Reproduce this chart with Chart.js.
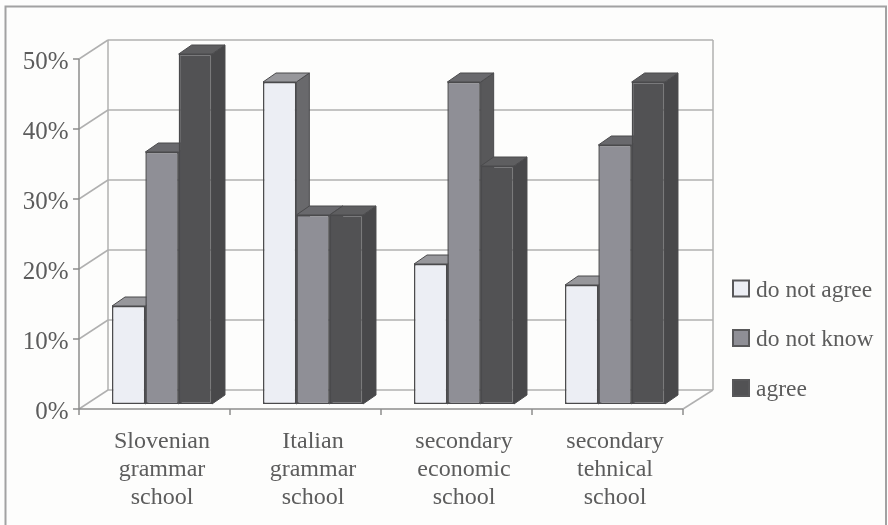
<!DOCTYPE html>
<html>
<head>
<meta charset="utf-8">
<style>
  html, body { margin: 0; padding: 0; background: #fdfdfc; }
  #wrap { position: relative; width: 888px; height: 525px; }
  canvas { display: block; }
</style>
<script src="https://cdn.jsdelivr.net/npm/chart.js@4"></script>
</head>
<body>
<div id="wrap"><canvas id="chart" width="888" height="525"></canvas></div>
<script>
// Survey answers by school type, in percent
const categories = [
  ['Slovenian', 'grammar', 'school'],
  ['Italian', 'grammar', 'school'],
  ['secondary', 'economic', 'school'],
  ['secondary', 'tehnical', 'school']
];
const doNotAgree = [14, 46, 20, 17];
const doNotKnow = [36, 27, 46, 37];
const agree = [50, 27, 34, 46];
const yTicks = [0, 10, 20, 30, 40, 50];

const seriesNames = ['do not agree', 'do not know', 'agree'];
const seriesValues = [doNotAgree, doNotKnow, agree];
const frontColors = ['#eceef4', '#8f8f96', '#525254'];
const topColors = ['#97979b', '#69696d', '#5e5e60'];
const sideColors = ['#69696c', '#58585a', '#48484a'];

const INK = '#5c5c5c';
const WALL = '#b0b0b0';
const SERIF = '"Liberation Serif", "Times New Roman", serif';
const LEGEND_FONT = '23.5px ' + SERIF;

// Depth of the bars and offsets of the box planes, relative to the bar plane
const BAR_DX = 13, BAR_DY = -9;
const FRONT_DX = -7.5, FRONT_DY = 5;
const BACK_DX = 21.5, BACK_DY = -14;

function line(ctx, x1, y1, x2, y2) {
  ctx.beginPath();
  ctx.moveTo(x1, y1);
  ctx.lineTo(x2, y2);
  ctx.stroke();
}

function quad(ctx, pts, fill) {
  ctx.fillStyle = fill;
  ctx.beginPath();
  pts.forEach((p, i) => (i ? ctx.lineTo(p[0], p[1]) : ctx.moveTo(p[0], p[1])));
  ctx.closePath();
  ctx.fill();
  ctx.stroke();
}

// Page frame, box walls, gridlines and the extruded faces of the bars
const boxPlugin = {
  id: 'box3d',
  beforeDatasetsDraw(chart) {
    const { ctx, chartArea: a, scales: { x, y } } = chart;
    const fl = a.left + FRONT_DX, fr = a.right + FRONT_DX;
    const bl = a.left + BACK_DX, br = a.right + BACK_DX + 1;
    const base = y.getPixelForValue(0);
    const top = y.getPixelForValue(yTicks[yTicks.length - 1]);

    ctx.save();
    ctx.lineWidth = 2;
    ctx.strokeStyle = '#a2a2a2';
    ctx.beginPath();
    ctx.moveTo(5.5, 525);
    ctx.lineTo(5.5, 6.5);
    ctx.lineTo(886, 6.5);
    ctx.lineTo(886, 525);
    ctx.stroke();

    ctx.lineWidth = 1.5;
    ctx.strokeStyle = WALL;
    yTicks.forEach(t => {
      const py = y.getPixelForValue(t);
      line(ctx, fl, py + FRONT_DY, bl, py + BACK_DY);
      line(ctx, bl, py + BACK_DY, br, py + BACK_DY);
    });
    line(ctx, bl, top + BACK_DY, bl, base + BACK_DY);
    line(ctx, br, top + BACK_DY, br, base + BACK_DY);
    line(ctx, fr, base + FRONT_DY, br, base + BACK_DY);

    ctx.strokeStyle = '#8c8c8c';
    line(ctx, fl, top + FRONT_DY, fl, base + FRONT_DY);
    line(ctx, fl, base + FRONT_DY, fr, base + FRONT_DY);
    yTicks.forEach(t => {
      const py = y.getPixelForValue(t) + FRONT_DY;
      line(ctx, fl - 6, py, fl, py);
    });
    const step = (fr - fl) / categories.length;
    for (let i = 0; i <= categories.length; i++) {
      const px = fl + i * step;
      line(ctx, px, base + FRONT_DY, px, base + FRONT_DY + 6);
    }

    // Top and side faces, painted left to right; the fronts are drawn later by the bar controller
    ctx.lineWidth = 1;
    categories.forEach((_, c) => {
      seriesValues.forEach((_, s) => {
        const bar = chart.getDatasetMeta(s).data[c];
        const half = bar.width / 2;
        const l = bar.x - half, r = bar.x + half, t = bar.y, b = bar.base;
        ctx.strokeStyle = '#4a4a4c';
        quad(ctx, [[r, t], [r + BAR_DX, t + BAR_DY], [r + BAR_DX, b + BAR_DY], [r, b]], sideColors[s]);
        quad(ctx, [[l, t], [l + BAR_DX, t + BAR_DY], [r + BAR_DX, t + BAR_DY], [r, t]], topColors[s]);
      });
    });
    ctx.restore();
  },
  afterDraw(chart) {
    // Legend entries at the right of the box
    const { ctx } = chart;
    const rows = [288.5, 338, 388];
    ctx.save();
    ctx.font = LEGEND_FONT;
    ctx.textBaseline = 'middle';
    seriesNames.forEach((name, i) => {
      ctx.fillStyle = frontColors[i];
      ctx.strokeStyle = '#58585a';
      ctx.lineWidth = 2;
      ctx.fillRect(733, rows[i] - 8, 16, 16);
      ctx.strokeRect(733, rows[i] - 8, 16, 16);
      ctx.fillStyle = INK;
      ctx.fillText(name, 756, rows[i] + 2);
    });
    ctx.restore();
  }
};

new Chart(document.getElementById('chart'), {
  type: 'bar',
  data: {
    labels: categories,
    datasets: seriesNames.map((name, i) => ({
      label: name,
      data: seriesValues[i],
      backgroundColor: frontColors[i],
      borderColor: '#4a4a4c',
      borderWidth: 1.5,
      borderSkipped: false,
      categoryPercentage: 0.662,
      barPercentage: 1
    }))
  },
  plugins: [boxPlugin],
  options: {
    responsive: false,
    animation: false,
    layout: { padding: { top: 54, right: 197.5, left: 0, bottom: 0 } },
    plugins: { legend: { display: false }, tooltip: { enabled: false } },
    scales: {
      x: {
        grid: { display: false, drawTicks: false },
        border: { display: false },
        ticks: {
          autoSkip: false, maxRotation: 0, minRotation: 0,
          color: INK, font: { family: SERIF, size: 24, lineHeight: 28 / 24 }, padding: 24
        },
        afterFit(scale) {
          scale.height = 121;
          scale.paddingLeft = scale.paddingRight = scale.paddingTop = scale.paddingBottom = 0;
        }
      },
      y: {
        min: 0,
        max: 50,
        afterBuildTicks(scale) { scale.ticks = yTicks.map(value => ({ value })); },
        grid: { display: false, drawTicks: false },
        border: { display: false },
        ticks: {
          color: INK, font: { family: SERIF, size: 25 }, padding: 18, labelOffset: 8,
          callback: v => v + '%'
        },
        afterFit(scale) {
          scale.width = 86.5;
          scale.paddingLeft = scale.paddingRight = scale.paddingTop = scale.paddingBottom = 0;
        }
      }
    }
  }
});
</script>
</body>
</html>
